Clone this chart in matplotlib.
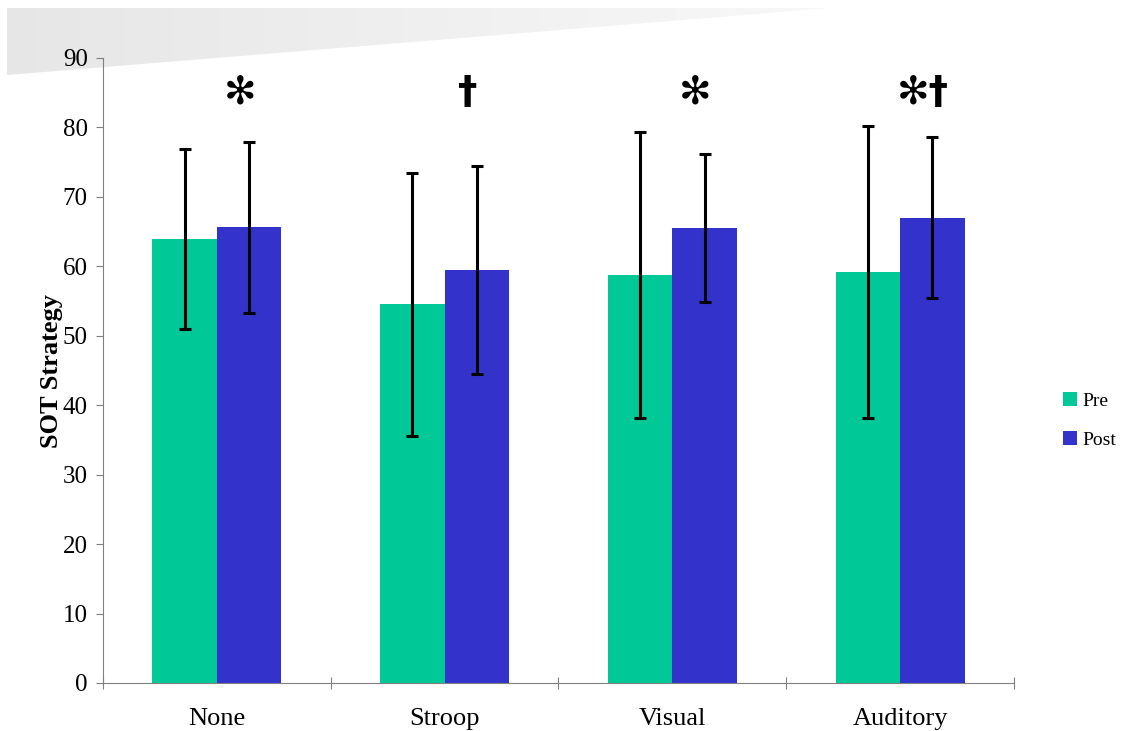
import numpy as np
import matplotlib.pyplot as plt
from matplotlib.patches import Polygon

categories = ['None', 'Stroop', 'Visual', 'Auditory']
pre = [63.9, 54.5, 58.8, 59.2]
pre_err = [13.0, 19.0, 20.6, 21.0]
post = [65.6, 59.5, 65.5, 67.0]
post_err = [12.3, 15.0, 10.7, 11.6]
marks = ['*', '+', '*', '*+']

plt.rcParams['font.family'] = ['Liberation Serif', 'DejaVu Serif']

fig = plt.figure(figsize=(11.21, 7.31), dpi=100)

# slide background wedge
bg = fig.add_axes([0, 0, 1, 1], zorder=-1)
bg.set_xlim(0, 1121)
bg.set_ylim(731, 0)
bg.axis('off')
grad = np.linspace(0.90, 0.97, 256)[None, :]
im = bg.imshow(grad, cmap='gray', vmin=0, vmax=1, extent=[7, 830, 75, 8], aspect='auto')
wedge = Polygon([(7, 8), (7, 75), (830, 8)], closed=True, facecolor='none', edgecolor='none')
bg.add_patch(wedge)
im.set_clip_path(wedge)

ax = fig.add_axes([0.0919, 0.0657, 0.8126, 0.855])
ax.patch.set_alpha(0)
x = np.arange(len(categories))
w = 0.283
err_kw = dict(ecolor='black', elinewidth=2.2, capsize=4.5, capthick=2.2)
ax.bar(x - w / 2, pre, w, yerr=pre_err, color='#00C896', label='Pre', error_kw=err_kw)
ax.bar(x + w / 2, post, w, yerr=post_err, color='#3333CC', label='Post', error_kw=err_kw)

ax.set_xlim(-0.5, 3.5)
ax.set_ylim(0, 90)
ax.set_yticks(range(0, 91, 10))
ax.tick_params(axis='y', labelsize=18, length=5, color='#808080', pad=6)
ax.set_xticks(np.arange(-0.5, 4, 1))
ax.set_xticklabels([])
ax.set_xticks(x, minor=True)
ax.set_xticklabels(categories, minor=True)
ax.tick_params(axis='x', which='major', length=9, color='#808080', direction='inout')
ax.tick_params(axis='x', which='minor', length=0, labelsize=19, pad=18)
for s in ['top', 'right']:
    ax.spines[s].set_visible(False)
for s in ['left', 'bottom']:
    ax.spines[s].set_color('#808080')

# significance marks above each group
sym = {'*': '\u273B', '+': '\u2020'}
for i, m in enumerate(marks):
    txt = ''.join(sym[c] for c in m)
    ax.text(x[i] + 0.1, 85.0, txt, ha='center', va='center', fontsize=28,
            fontweight='bold', family=['DejaVu Sans'])

fig.text(52 / 1121, 1 - 371 / 731, 'SOT Strategy', rotation=90, ha='center', va='center',
         fontsize=19, fontweight='bold')

ax.legend(loc='center left', bbox_to_anchor=(1.035, 0.42), frameon=False, fontsize=14,
          handlelength=0.7, handleheight=0.7, handletextpad=0.3, labelspacing=1.1)

fig.savefig('out.png', dpi=100)
